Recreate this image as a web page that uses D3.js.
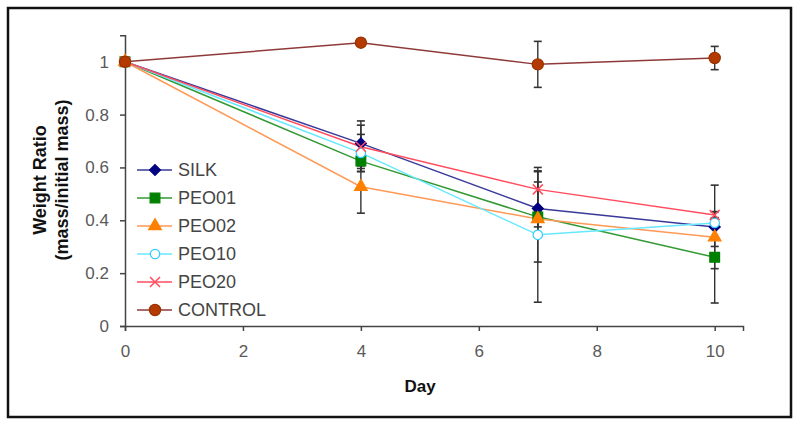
<!DOCTYPE html>
<html><head><meta charset="utf-8">
<script src="https://cdn.jsdelivr.net/npm/d3@7"></script>
<style>body{margin:0;background:#fff}svg{display:block}text{font-family:"Liberation Sans",Arial,sans-serif}</style>
</head><body><svg id="c" width="800" height="424"></svg>
<script>
const days = [0, 4, 7, 10];
const seriesNames = ["SILK", "PEO01", "PEO02", "PEO10", "PEO20", "CONTROL"];
const silk    = [1, 0.691, 0.445, 0.375];
const peo01   = [1, 0.624, 0.413, 0.260];
const peo02   = [1, 0.527, 0.405, 0.336];
const peo10   = [1, 0.655, 0.345, 0.390];
const peo20   = [1, 0.678, 0.517, 0.420];
const control = [1, 1.072, 0.990, 1.014];
const silkErr    = [0, 0.085, 0.100, 0.158];
const peo01Err   = [0, 0.040, 0.171, 0.173];
const peo02Err   = [0, 0.100, 0.030, 0.035];
const peo10Err   = [0, 0.070, 0.255, 0.020];
const peo20Err   = [0, 0.082, 0.070, 0.012];
const controlErr = [0, 0.000, 0.087, 0.044];
const xTicks = [0, 2, 4, 6, 8, 10];
const yTicks = [0, 0.2, 0.4, 0.6, 0.8, 1];

const series = [
  {name: seriesNames[0], v: silk,    e: silkErr,    line: "#3a3a9a", fill: "#000080", stroke: "#000080", sym: d3.symbolSquare, size: 60, rot: 45},
  {name: seriesNames[1], v: peo01,   e: peo01Err,   line: "#339933", fill: "#008000", stroke: "#008000", sym: d3.symbolSquare, size: 95},
  {name: seriesNames[2], v: peo02,   e: peo02Err,   line: "#ff9955", fill: "#ff8000", stroke: "#ff8000", sym: d3.symbolTriangle, size: 70},
  {name: seriesNames[3], v: peo10,   e: peo10Err,   line: "#66e8ff", fill: "#ffffff", stroke: "#33ccff", sym: d3.symbolCircle, size: 70},
  {name: seriesNames[4], v: peo20,   e: peo20Err,   line: "#ff4d5e", fill: "none",    stroke: "#ff4d5e", sym: d3.symbolCross, size: 70, x: true},
  {name: seriesNames[5], v: control, e: controlErr, line: "#8f3a3a", fill: "#b33a00", stroke: "#993300", sym: d3.symbolCircle, size: 100}
];

const svg = d3.select("#c");
svg.append("rect").attr("width",800).attr("height",424).attr("fill","#fff");
svg.append("rect").attr("x",8).attr("y",8).attr("width",783).attr("height",409)
   .attr("fill","none").attr("stroke","#111").attr("stroke-width",2.5);

const x = d3.scaleLinear().domain([0, 10.48]).range([125, 743]);
const y = d3.scaleLinear().domain([0, 1.1]).range([326, 35.3]);

const xa = svg.append("g").attr("transform","translate(0,326)")
  .call(d3.axisBottom(x).tickValues(xTicks).tickFormat(d3.format("d")).tickSize(5).tickPadding(14));
const ya = svg.append("g").attr("transform","translate(125,0)")
  .call(d3.axisLeft(y).tickValues(yTicks).tickFormat(d => d === 0 || d === 1 ? String(d) : d3.format(".1f")(d)).tickSize(5).tickPadding(11));
[xa, ya].forEach(a => {
  a.select(".domain").attr("stroke","#444").attr("stroke-width",1.5);
  a.selectAll(".tick line").attr("stroke","#444").attr("stroke-width",1.5);
  a.selectAll(".tick text").attr("fill","#5a5a5a").attr("font-size",17);
});

svg.append("text").attr("x",420).attr("y",392).attr("text-anchor","middle")
  .attr("font-weight","bold").attr("font-size",17).attr("fill","#111").text("Day");
const yt = svg.append("text").attr("transform","translate(40,180) rotate(-90)")
  .attr("text-anchor","middle").attr("font-weight","bold").attr("font-size",18).attr("fill","#111");
yt.append("tspan").attr("x",0).attr("dy","0.35em").text("Weight Ratio");
yt.append("tspan").attr("x",0).attr("dy","1.2em").text("(mass/initial mass)");

const line = d3.line().x((d,i) => x(days[i])).y(d => y(d));

series.forEach(s => {
  svg.append("path").attr("d", line(s.v)).attr("fill","none")
     .attr("stroke", s.line).attr("stroke-width",1.5);
});
series.forEach(s => {
  const g = svg.append("g");
  s.v.forEach((v,i) => {
    const e = s.e[i];
    if (e > 0.005) {
      const cx = x(days[i]);
      g.append("line").attr("x1",cx).attr("x2",cx).attr("y1",y(v+e)).attr("y2",y(v-e)).attr("stroke","#333").attr("stroke-width",1.4);
      [v+e, v-e].forEach(t => g.append("line").attr("x1",cx-4).attr("x2",cx+4).attr("y1",y(t)).attr("y2",y(t)).attr("stroke","#333").attr("stroke-width",1.6));
    }
  });
});
function marker(g, s, cx, cy) {
  g.append("path").attr("d", d3.symbol().type(s.sym).size(s.size)())
   .attr("transform", `translate(${cx},${cy})` + (s.rot ? ` rotate(${s.rot})` : ""))
   .attr("fill", s.fill).attr("stroke", s.stroke).attr("stroke-width", 1.2);
}
function xMarker(g, s, cx, cy) {
  const r = 5;
  g.append("path").attr("d", `M${cx-r},${cy-r}L${cx+r},${cy+r}M${cx-r},${cy+r}L${cx+r},${cy-r}`)
   .attr("stroke", s.stroke).attr("stroke-width",1.5).attr("fill","none");
}
series.forEach(s => {
  const g = svg.append("g");
  s.v.forEach((v,i) => s.x ? xMarker(g, s, x(days[i]), y(v)) : marker(g, s, x(days[i]), y(v)));
});

// legend
const lg = svg.append("g");
series.forEach((s,i) => {
  const cy = 170 + i*28;
  lg.append("line").attr("x1",137).attr("x2",172).attr("y1",cy).attr("y2",cy).attr("stroke",s.line).attr("stroke-width",1.5);
  s.x ? xMarker(lg, s, 155, cy) : marker(lg, s, 155, cy);
  lg.append("text").attr("x",178).attr("y",cy).attr("dy","0.36em").attr("font-size",18).attr("fill","#444").text(s.name);
});
</script></body></html>
